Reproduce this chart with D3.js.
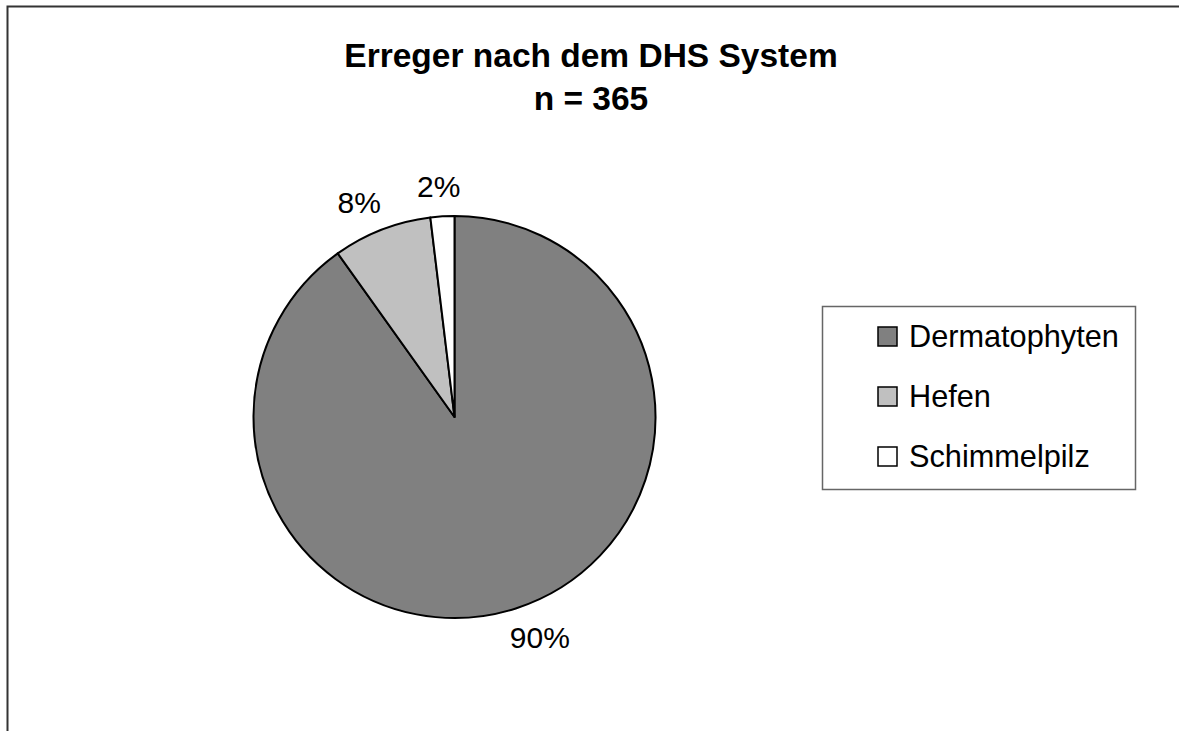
<!DOCTYPE html>
<html>
<head>
<meta charset="utf-8">
<script src="https://cdn.jsdelivr.net/npm/d3@7"></script>
<style>
  html, body { margin: 0; padding: 0; background: #fff; }
  svg { display: block; font-family: "Liberation Sans", Arial, sans-serif; }
</style>
</head>
<body>
<div id="chart"></div>
<script>
// chart data
const titleLines = ["Erreger nach dem DHS System", "n = 365"];
const categories = ["Dermatophyten", "Hefen", "Schimmelpilz"];
const counts     = [329, 29, 7];
const colors     = ["#808080", "#c0c0c0", "#ffffff"];

const width = 1179, height = 731;
const cx = 454.5, cy = 417, r = 201;

const svg = d3.select("#chart").append("svg")
  .attr("width", width)
  .attr("height", height);

// chart frame (only top/left edges fall inside the view)
svg.append("rect")
  .attr("x", 7.5).attr("y", 6.5)
  .attr("width", 1220).attr("height", 800)
  .attr("fill", "none")
  .attr("stroke", "#333")
  .attr("stroke-width", 2);

// title
const title = svg.append("text")
  .attr("text-anchor", "middle")
  .attr("font-weight", "bold")
  .attr("font-size", 33.5)
  .attr("fill", "#000");
titleLines.forEach((t, i) => {
  title.append("tspan").attr("x", 591).attr("y", 67 + i * 43).text(t);
});

// pie
const total = d3.sum(counts);
const pie = d3.pie().sort(null).value(d => d)(counts);
const arc = d3.arc().innerRadius(0).outerRadius(r);

const g = svg.append("g").attr("transform", `translate(${cx},${cy})`);

g.selectAll("path.slice")
  .data(pie)
  .join("path")
    .attr("class", "slice")
    .attr("d", arc)
    .attr("fill", (d, i) => colors[i])
    .attr("stroke", "#000")
    .attr("stroke-width", 2)
    .attr("stroke-linejoin", "round");

// percentage labels outside the slices
const fmt = d => Math.round(d.value / total * 100) + "%";
const labelOffset = 19, fs = 30;
g.selectAll("text.pct")
  .data(pie)
  .join("text")
    .attr("class", "pct")
    .attr("font-size", fs)
    .attr("text-anchor", "middle")
    .text(fmt)
    .each(function(d) {
      const a = (d.startAngle + d.endAngle) / 2;
      const s = Math.sin(a), c = -Math.cos(a);
      const w = this.getComputedTextLength();
      const h = 22;
      const x = (r + labelOffset) * s + w * s;
      const y = (r + labelOffset) * c + (h / 2) * c;
      d3.select(this).attr("x", x).attr("y", y + h / 2);
    });

// legend
const legend = svg.append("g");
legend.append("rect")
  .attr("x", 822.5).attr("y", 306.5)
  .attr("width", 313).attr("height", 183)
  .attr("fill", "#fff")
  .attr("stroke", "#666")
  .attr("stroke-width", 1.5);

const rowY = d3.scalePoint().domain(categories).range([347, 467]);
const items = legend.selectAll("g.item")
  .data(categories)
  .join("g")
    .attr("class", "item")
    .attr("transform", d => `translate(0,${rowY(d)})`);

items.append("rect")
  .attr("x", 878).attr("y", -20)
  .attr("width", 19).attr("height", 19)
  .attr("fill", (d, i) => colors[i])
  .attr("stroke", "#000")
  .attr("stroke-width", 1.5);

items.append("text")
  .attr("x", 909).attr("y", 0)
  .attr("font-size", 30.7)
  .attr("fill", "#000")
  .text(d => d);
</script>
</body>
</html>
